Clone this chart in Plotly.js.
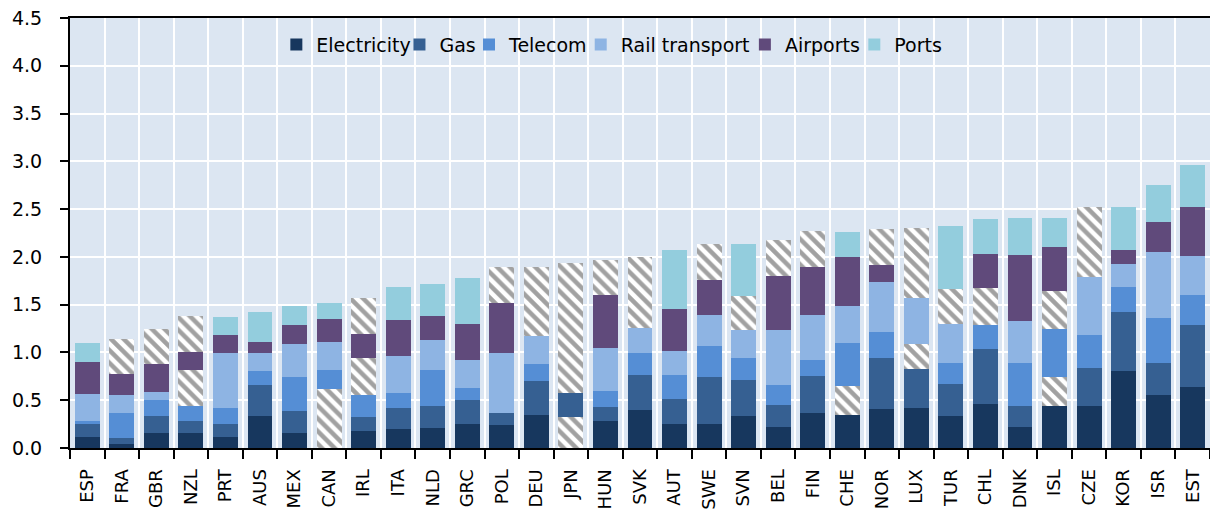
<!DOCTYPE html>
<html>
<head>
<meta charset="utf-8">
<script src="https://cdn.plot.ly/plotly-3.0.1.min.js"></script>
<style>html,body{margin:0;padding:0;background:#fff;}#chart{width:1210px;height:509px;}</style>
</head>
<body>
<div id="chart"></div>
<script>
const countries = ["ESP","FRA","GBR","NZL","PRT","AUS","MEX","CAN","IRL","ITA","NLD","GRC","POL","DEU","JPN","HUN","SVK","AUT","SWE","SVN","BEL","FIN","CHE","NOR","LUX","TUR","CHL","DNK","ISL","CZE","KOR","ISR","EST"];

const electricity = [0.12,0.04,0.16,0.16,0.12,0.33,0.16,0.62,0.18,0.20,0.21,0.25,0.24,0.35,0.32,0.28,0.40,0.25,0.25,0.34,0.22,0.37,0.35,0.41,0.42,0.34,0.46,0.22,0.44,0.44,0.81,0.55,0.64];
const gas         = [0.13,0.06,0.17,0.12,0.13,0.33,0.23,0.00,0.14,0.22,0.23,0.25,0.13,0.35,0.26,0.15,0.36,0.26,0.49,0.37,0.23,0.38,0.30,0.53,0.41,0.33,0.58,0.22,0.30,0.40,0.61,0.34,0.65];
const telecom     = [0.03,0.27,0.17,0.16,0.17,0.15,0.35,0.20,0.23,0.16,0.38,0.13,0.00,0.18,1.36,0.17,0.23,0.25,0.33,0.23,0.21,0.17,0.45,0.27,0.26,0.22,0.25,0.45,0.51,0.34,0.26,0.47,0.31];
const rail        = [0.28,0.18,0.09,0.38,0.57,0.18,0.35,0.29,0.39,0.38,0.31,0.29,0.62,0.29,0.00,0.45,0.27,0.25,0.32,0.29,0.58,0.47,0.39,0.53,0.48,0.41,0.38,0.44,0.39,0.61,0.25,0.69,0.41];
const airports    = [0.34,0.22,0.29,0.18,0.19,0.12,0.20,0.24,0.25,0.38,0.25,0.38,0.53,0.72,0.00,0.55,0.74,0.44,0.37,0.36,0.56,0.50,0.51,0.17,0.73,0.36,0.36,0.69,0.46,0.73,0.14,0.32,0.51];
const ports       = [0.20,0.37,0.37,0.38,0.19,0.31,0.20,0.17,0.38,0.34,0.34,0.48,0.37,0.00,0.00,0.37,0.00,0.62,0.38,0.54,0.38,0.38,0.26,0.38,0.00,0.66,0.37,0.39,0.31,0.00,0.45,0.38,0.44];

// Countries where a sector's value is shown hatched (not directly available)
const electricityHatched = ["CAN","JPN"];
const gasHatched         = ["CHE","ISL"];
const telecomHatched     = ["JPN","LUX"];
const railHatched        = ["NZL","IRL","CHL","ISL"];
const airportsHatched    = ["DEU","SVK","SVN","LUX","TUR","CZE"];
const portsHatched       = ["FRA","GBR","NZL","IRL","POL","HUN","SWE","BEL","FIN","NOR"];

const sectorNames  = ["Electricity","Gas","Telecom","Rail transport","Airports","Ports"];
const sectorValues = [electricity, gas, telecom, rail, airports, ports];
const sectorHatch  = [electricityHatched, gasHatched, telecomHatched, railHatched, airportsHatched, portsHatched];
const sectorColors = ["#17375e","#366092","#558ed5","#8eb4e3","#604a7b","#93cddd"];
// legend entry x positions (paper fraction of the plot width)
const legendX      = [0.181, 0.289, 0.350, 0.448, 0.592, 0.688];

const font = "'DejaVu Sans', Verdana, sans-serif";
const legendIds = ["legend","legend2","legend3","legend4","legend5","legend6"];

const traces = sectorNames.map((name, i) => {
  const hatch = countries.map(c => sectorHatch[i].includes(c));
  return {
    type: "bar",
    name: name,
    x: countries,
    y: sectorValues[i],
    legend: legendIds[i],
    marker: {
      color: hatch.map(h => h ? "#ffffff" : sectorColors[i]),
      line: {width: 0},
      pattern: {
        shape: hatch.map(h => h ? "\\" : ""),
        fillmode: "overlay",
        fgcolor: "#000000",
        size: 9,
        solidity: 0.5
      }
    },
    hoverinfo: "x+y+name"
  };
});

const layout = {
  width: 1210,
  height: 509,
  margin: {l: 70, r: 0, t: 18, b: 61},
  paper_bgcolor: "#ffffff",
  plot_bgcolor: "#dce6f2",
  barmode: "stack",
  bargap: 0.28,
  font: {family: font, size: 19, color: "#000"},
  showlegend: true,
  xaxis: {
    type: "category",
    tickson: "boundaries",
    ticks: "outside",
    ticklen: 9,
    tickwidth: 2,
    tickcolor: "#000",
    tickangle: -90,
    ticklabelstandoff: 12,
    showgrid: true,
    gridcolor: "#ffffff",
    gridwidth: 2,
    showline: true,
    linecolor: "#000",
    linewidth: 2,
    mirror: true,
    automargin: false,
    tickfont: {family: font, size: 18, color: "#000"}
  },
  yaxis: {
    range: [0, 4.5],
    dtick: 0.5,
    tickformat: ".1f",
    ticks: "outside",
    ticklen: 8,
    tickwidth: 2,
    tickcolor: "#000",
    ticklabelstandoff: 14,
    showgrid: true,
    gridcolor: "#ffffff",
    gridwidth: 2,
    zeroline: false,
    showline: true,
    linecolor: "#000",
    linewidth: 2,
    automargin: false,
    tickfont: {family: font, size: 19, color: "#000"}
  }
};

legendIds.forEach((id, i) => {
  layout[id] = {
    orientation: "h",
    x: legendX[i], xanchor: "left",
    y: 0.938, yanchor: "middle",
    bgcolor: "rgba(0,0,0,0)",
    font: {family: font, size: 19, color: "#000"},
    itemwidth: 30
  };
});

Plotly.newPlot("chart", traces, layout, {displayModeBar: false, staticPlot: true});
</script>
</body>
</html>
